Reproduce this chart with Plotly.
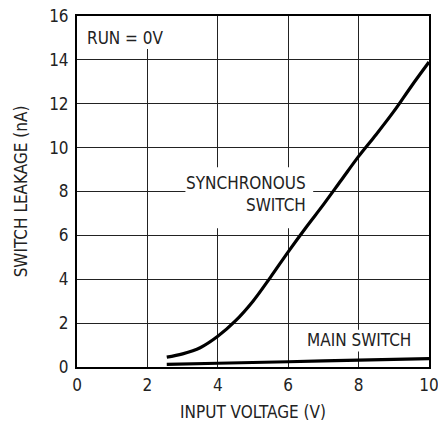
import plotly.graph_objects as go

# Data
sync_x = [2.55, 3.0, 3.5, 4.0, 4.5, 5.0, 5.5, 6.0, 6.5, 7.0, 7.5, 8.0, 8.5, 9.0, 9.5, 10.0]
sync_y = [0.45, 0.6, 0.88, 1.4, 2.1, 3.0, 4.1, 5.25, 6.35, 7.4, 8.5, 9.6, 10.6, 11.65, 12.8, 13.9]
main_x = [2.55, 4.0, 6.0, 8.0, 10.0]
main_y = [0.12, 0.17, 0.24, 0.31, 0.38]

x_ticks = [0, 2, 4, 6, 8, 10]
y_ticks = [0, 2, 4, 6, 8, 10, 12, 14, 16]

FONT = "DejaVu Sans Condensed, Roboto, sans-serif"
TXT = "#222222"

fig = go.Figure()
fig.add_trace(go.Scatter(x=sync_x, y=sync_y, mode="lines", line=dict(color="black", width=3.2, shape="spline"), showlegend=False))
fig.add_trace(go.Scatter(x=main_x, y=main_y, mode="lines", line=dict(color="black", width=3.2, shape="spline"), showlegend=False))

# white patches that break the grid behind labels
for x0, x1, y0, y1 in [(0.1, 2.4, 14.5, 16), (3.08, 6.71, 6.33, 9.1), (6.45, 9.65, 0.71, 1.7)]:
    fig.add_shape(type="rect", x0=x0, x1=x1, y0=y0, y1=y1, fillcolor="white", line=dict(width=0), layer="between")

ann = dict(showarrow=False, font=dict(family=FONT, size=17, color=TXT), xref="x", yref="y")
fig.add_annotation(x=0.24, y=15.0, text="RUN = 0V", xanchor="left", **ann)
fig.add_annotation(x=6.55, y=8.38, text="SYNCHRONOUS", xanchor="right", **ann)
fig.add_annotation(x=6.55, y=7.38, text="SWITCH", xanchor="right", **ann)
fig.add_annotation(x=9.55, y=1.24, text="MAIN SWITCH", xanchor="right", **ann)

axis_common = dict(
    showgrid=True, gridcolor="#222222", gridwidth=1,
    showline=True, linecolor="black", linewidth=2, mirror=True,
    ticks="", zeroline=False, automargin=False, ticklabeloverflow="allow",
    tickfont=dict(family=FONT, size=17, color=TXT),
)
fig.update_xaxes(range=[0, 10], tickvals=x_ticks, ticktext=[str(v) for v in x_ticks],
                 ticklabelstandoff=2,
                 title=dict(text="INPUT VOLTAGE (V)", font=dict(family=FONT, size=17, color=TXT), standoff=17),
                 **axis_common)
fig.update_yaxes(range=[0, 16], tickvals=y_ticks, ticktext=[str(v) for v in y_ticks],
                 ticklabelstandoff=3,
                 title=dict(text="SWITCH LEAKAGE (nA)", font=dict(family=FONT, size=17, color=TXT), standoff=17),
                 **axis_common)

fig.update_layout(
    width=438, height=422,
    margin=dict(l=77, r=9, t=16, b=55),
    paper_bgcolor="white", plot_bgcolor="white",
)

# remove the default 8px page margin so the figure fills the window
fig.write_html("out.html", config={"displayModeBar": False},
               post_script="document.body.style.margin='0';document.body.style.overflow='hidden';")
